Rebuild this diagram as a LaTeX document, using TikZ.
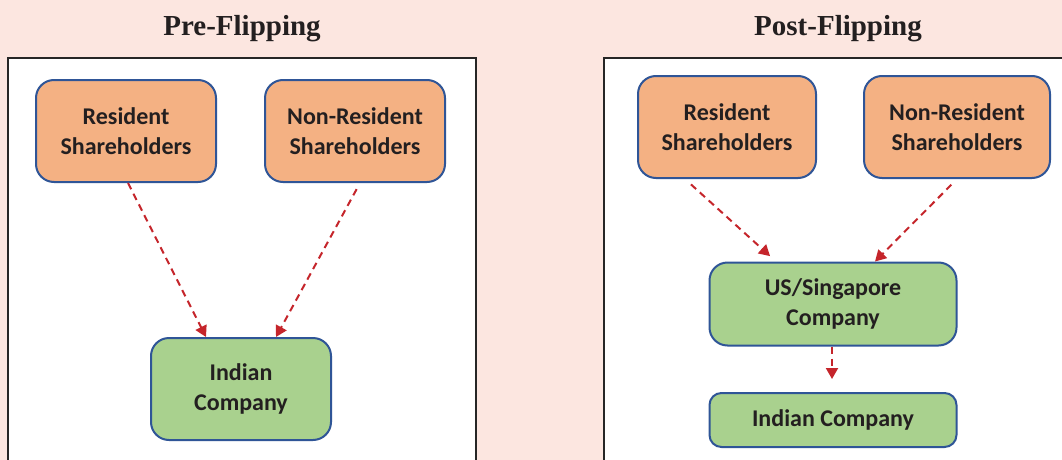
\documentclass[tikz,border=0pt]{standalone}
\usepackage{fontspec}
\setmainfont{Liberation Serif}
\newfontfamily\boxfont{Carlito}
\usetikzlibrary{arrows.meta}

\definecolor{bgpink}{HTML}{FCE6E0}
\definecolor{holderorange}{HTML}{F4B183}
\definecolor{companygreen}{HTML}{A9D18E}
\definecolor{edgeblue}{HTML}{2F5597}
\definecolor{flowred}{HTML}{C5252B}
\definecolor{inkdark}{HTML}{231F20}

\begin{document}
\begin{tikzpicture}[
        x=1pt, y=-1pt,
        panel/.style={draw=black!85, line width=1.3pt, fill=white},
        heading/.style={anchor=base, text=inkdark, font=\bfseries\fontsize{29}{34}\selectfont},
        box/.style={draw=edgeblue, line width=2pt, rectangle, rounded corners=18pt, align=center, inner sep=0pt, text=inkdark, font=\boxfont\bfseries\fontsize{24}{30}\selectfont},
        holder/.style={box, fill=holderorange, minimum width=180pt, minimum height=102pt},
        company/.style={box, fill=companygreen},
        arrow/.style={-{Triangle[length=11pt, width=12pt]}, line width=2pt, draw=flowred, dash pattern=on 7pt off 5pt}
    ]
        \clip (0,0) rectangle (1062,460);
        \fill[bgpink] (0,0) rectangle (1062,460);

        % Panels
        \draw[panel] (8,58) rectangle (476,480);
        \draw[panel] (604,58) rectangle (1072,480);
        \node (pretitle) [heading] at (242,36) {Pre-Flipping};
        \node (posttitle) [heading] at (838,36) {Post-Flipping};

        % Pre-Flipping structure
        \node (lres) [holder] at (126,131) {Resident\\Shareholders};
        \node (lnres) [holder] at (355,131) {Non-Resident\\Shareholders};
        \node (lind) [company, minimum width=180pt, minimum height=102pt] at (241,389) {Indian\\Company};

        % Post-Flipping structure
        \node (rres) [holder, minimum width=178pt] at (727,127) {Resident\\Shareholders};
        \node (rnres) [holder, minimum width=186pt] at (957,127) {Non-Resident\\Shareholders};
        \node (hold) [company, minimum width=247pt, minimum height=83pt] at (833,304) {US/Singapore\\Company};
        \node (rind) [company, rounded corners=12pt, minimum width=247pt, minimum height=54pt] at (833,420) {Indian Company};

        % Connections
        \draw [arrow] ([xshift=2pt]lres.south) -- ([xshift=-35pt]lind.north);
        \draw [arrow, shorten <=7pt] ([xshift=5pt]lnres.south) -- ([xshift=35pt]lind.north);
        \draw [arrow, shorten <=8pt, shorten >=8pt] ([xshift=-42pt]rres.south) -- ([xshift=-57pt]hold.north);
        \draw [arrow, shorten <=8pt] (rnres.south) -- ([xshift=42pt]hold.north);
        \draw [arrow, shorten >=13pt] ([xshift=-1pt]hold.south) -- ([xshift=-1pt]rind.north);
    \end{tikzpicture}
\end{document}
